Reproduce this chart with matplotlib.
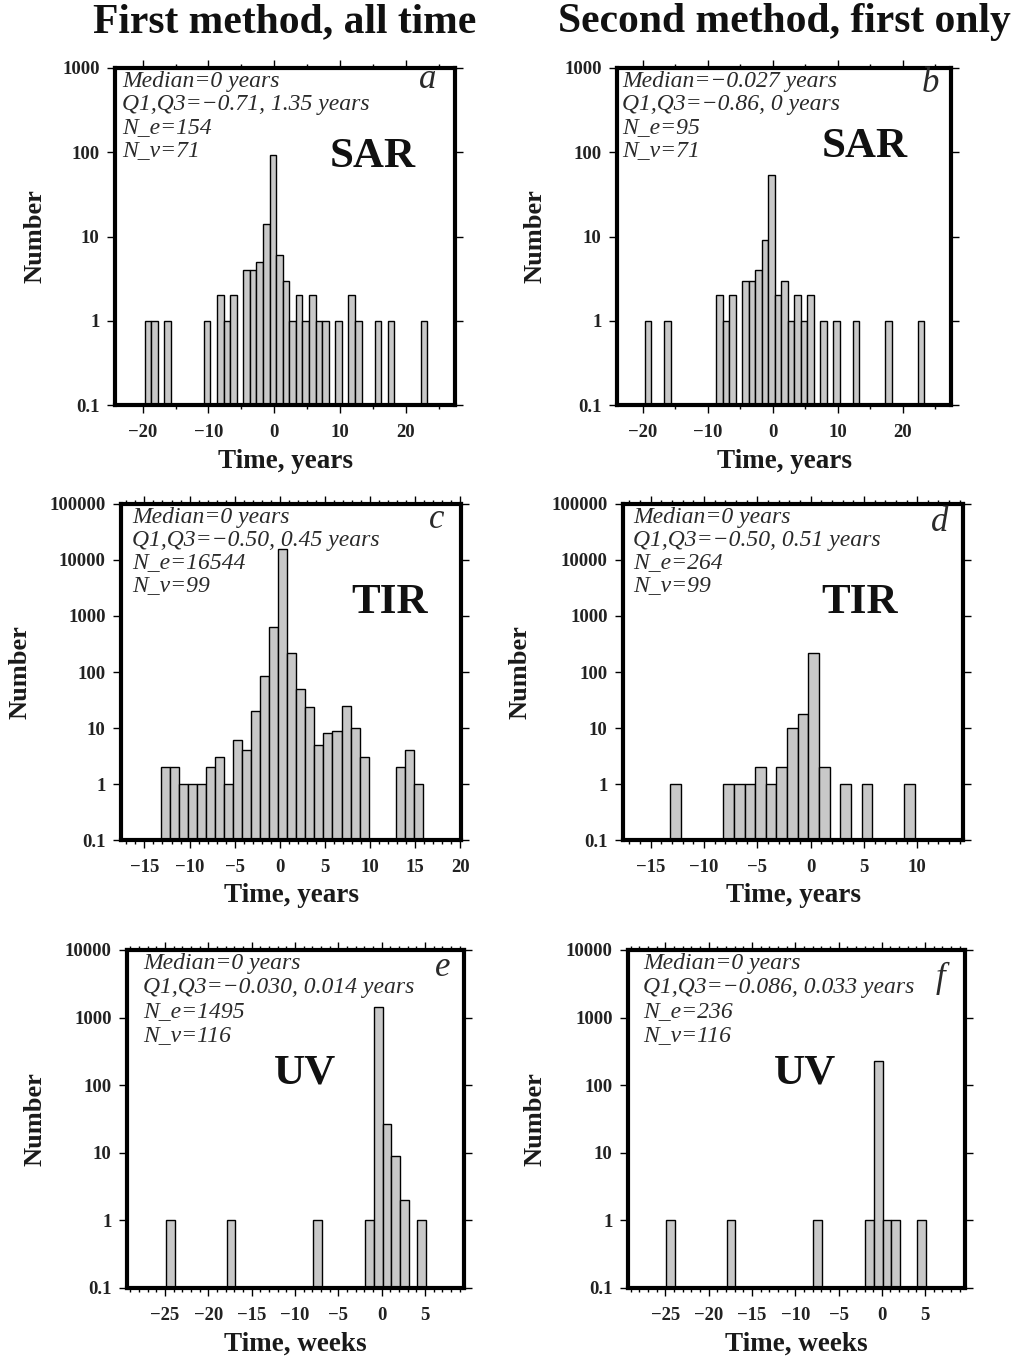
import matplotlib
matplotlib.use("Agg")
import matplotlib.pyplot as plt
from matplotlib.ticker import FixedLocator, MultipleLocator, NullLocator

# =========================
# DATOS
# =========================
# centros de las clases (años / semanas) y número de casos
sar_all_t = [-19.2, -18.2, -16.2, -10.2, -8.2, -7.2, -6.2, -4.2, -3.2, -2.2,
             -1.2, -0.2, 0.8, 1.8, 2.8, 3.8, 4.8, 5.8, 6.8, 7.8, 9.8, 11.8,
             12.8, 15.8, 17.8, 22.8]
sar_all_n = [1, 1, 1, 1, 2, 1, 2, 4, 4, 5, 14, 94, 6, 3, 1, 2, 1, 2, 1, 1, 1,
             2, 1, 1, 1, 1]

sar_first_t = [-19.2, -16.2, -8.2, -7.2, -6.2, -4.2, -3.2, -2.2, -1.2, -0.2,
               0.8, 1.8, 2.8, 3.8, 4.8, 5.8, 7.8, 9.8, 12.8, 17.8, 22.8]
sar_first_n = [1, 1, 2, 1, 2, 3, 3, 4, 9, 53, 2, 3, 1, 2, 1, 2, 1, 1, 1, 1, 1]

tir_all_t = [-12.65, -11.65, -10.65, -9.65, -8.65, -7.65, -6.65, -5.65,
             -4.65, -3.65, -2.65, -1.65, -0.65, 0.35, 1.35, 2.35, 3.35, 4.35,
             5.35, 6.35, 7.35, 8.35, 9.35, 13.35, 14.35, 15.35]
tir_all_n = [2, 2, 1, 1, 1, 2, 3, 1, 6, 4, 20, 85, 630, 15425, 220, 50, 24,
             5, 8, 9, 25, 10, 3, 2, 4, 1]

tir_first_t = [-12.7, -7.7, -6.7, -5.7, -4.7, -3.7, -2.7, -1.7, -0.7, 0.3,
               1.3, 3.3, 5.3, 9.3]
tir_first_n = [1, 1, 1, 1, 2, 1, 2, 10, 18, 222, 2, 1, 1, 1]

uv_all_t = [-24.4, -17.4, -7.4, -1.4, -0.4, 0.6, 1.6, 2.6, 4.6]
uv_all_n = [1, 1, 1, 1, 1452, 27, 9, 2, 1]

uv_first_t = [-24.4, -17.4, -7.4, -1.4, -0.4, 0.6, 1.6, 4.6]
uv_first_n = [1, 1, 1, 1, 229, 1, 1, 1]

titulos = ["First method, all time", "Second method, first only"]

textos = [
    ["Median=0 years", "Q1,Q3=\u22120.71, 1.35 years", "N_e=154", "N_v=71"],
    ["Median=\u22120.027 years", "Q1,Q3=\u22120.86, 0 years", "N_e=95", "N_v=71"],
    ["Median=0 years", "Q1,Q3=\u22120.50, 0.45 years", "N_e=16544", "N_v=99"],
    ["Median=0 years", "Q1,Q3=\u22120.50, 0.51 years", "N_e=264", "N_v=99"],
    ["Median=0 years", "Q1,Q3=\u22120.030, 0.014 years", "N_e=1495", "N_v=116"],
    ["Median=0 years", "Q1,Q3=\u22120.086, 0.033 years", "N_e=236", "N_v=116"],
]

# =========================
# FIGURA
# =========================
W, H = 1013, 1357
fig = plt.figure(figsize=(W / 100, H / 100), dpi=100)
SERIF = "Liberation Serif"
GRIS = "#c8c8c8"


def px(x, y):
    return x / W, 1 - y / H


def ejes(l, t, r, b):
    return fig.add_axes([l / W, 1 - b / H, (r - l) / W, (b - t) / H])


def panel(caja, t, n, xlim, ymax, mayor, menor, etiqueta_x, letra, letra_pos,
          nombre, nombre_pos, lineas, texto_pos, paso, num_x):
    l, top, r, b = caja
    ax = ejes(l, top, r, b)
    ax.bar(t, n, width=1.0, bottom=1e-3, color=GRIS, edgecolor="black",
           linewidth=1.0, align="center", zorder=2)
    ax.set_yscale("log")
    ax.set_ylim(0.1, ymax)
    ax.set_xlim(*xlim)
    decadas = [10.0 ** k for k in range(-1, 6) if 10.0 ** k <= ymax * 1.01]
    ax.yaxis.set_major_locator(FixedLocator(decadas))
    ax.yaxis.set_minor_locator(NullLocator())
    ax.set_yticklabels(["0.1" if d < 1 else str(int(d)) for d in decadas])
    ax.xaxis.set_major_locator(MultipleLocator(mayor))
    ax.xaxis.set_minor_locator(MultipleLocator(menor))
    ax.xaxis.set_major_formatter(plt.FuncFormatter(
        lambda v, p: f"{int(round(v))}".replace("-", "\u2212")))
    ax.tick_params(which="both", direction="out", top=True, right=True,
                   width=1.0, colors="black")
    ax.tick_params(which="major", length=6, labelsize=13.5)
    ax.tick_params(axis="x", which="major", pad=8)
    ax.tick_params(axis="y", which="major", pad=5)
    ax.tick_params(which="minor", length=3)
    for lab in ax.get_xticklabels() + ax.get_yticklabels():
        lab.set_fontfamily(SERIF)
        lab.set_fontweight("bold")
        lab.set_color("#222222")
    for s in ax.spines.values():
        s.set_linewidth(3.0)
    # textos
    x0, y0 = texto_pos
    for i, linea in enumerate(lineas):
        fig.text(*px(x0, y0 + i * paso), linea, fontsize=17,
                 fontstyle="italic", family=SERIF, va="center", ha="left",
                 color="#2a2a2a")
    fig.text(*px(*letra_pos), letra, fontsize=25, fontstyle="italic",
             family=SERIF, va="center", ha="center", color="#2a2a2a")
    fig.text(*px(*nombre_pos), nombre, fontsize=31, fontweight="bold",
             family=SERIF, va="center", ha="center", color="#111111")
    fig.text(*px((l + r) / 2, b + 56), etiqueta_x, fontsize=19.5,
             fontweight="bold", family=SERIF, va="center", ha="center",
             color="#1a1a1a")
    fig.text(*px(num_x, (top + b) / 2), "Number", fontsize=19,
             fontweight="bold", family=SERIF, va="center", ha="center",
             rotation=90, color="#1a1a1a")
    return ax


panel((115, 68, 455, 405), sar_all_t, sar_all_n, (-24.2, 27.5), 1000, 10, 5,
      "Time, years", "a", (428, 80), "SAR", (373, 157),
      textos[0], (122, 82), 22.7, 35)
panel((617, 68, 951, 405), sar_first_t, sar_first_n, (-24.0, 27.4), 1000, 10, 5,
      "Time, years", "b", (930, 84), "SAR", (865, 147),
      textos[1], (622, 82), 22.7, 535)
panel((121, 504, 461, 840), tir_all_t, tir_all_n, (-17.6, 20.1), 1e5, 5, 1,
      "Time, years", "c", (437, 520), "TIR", (390, 603),
      textos[2], (132, 518), 22.5, 20)
panel((623, 504, 963, 840), tir_first_t, tir_first_n, (-17.6, 14.3), 1e5, 5, 1,
      "Time, years", "d", (940, 523), "TIR", (860, 603),
      textos[3], (633, 518), 22.5, 520)
panel((127, 950, 464, 1288), uv_all_t, uv_all_n, (-29.4, 9.5), 1e4, 5, 1,
      "Time, weeks", "e", (443, 968), "UV", (305, 1073),
      textos[4], (143, 964), 24, 35)
panel((628, 950, 965, 1288), uv_first_t, uv_first_n, (-29.3, 9.6), 1e4, 5, 1,
      "Time, weeks", "f", (940, 978), "UV", (805, 1073),
      textos[5], (643, 964), 24, 535)

fig.text(*px(285, 22), titulos[0], fontsize=30, fontweight="bold",
         family=SERIF, va="center", ha="center", color="#111111")
fig.text(*px(784, 22), titulos[1], fontsize=30, fontweight="bold",
         family=SERIF, va="center", ha="center", color="#111111")

fig.savefig("out.png", dpi=100)
